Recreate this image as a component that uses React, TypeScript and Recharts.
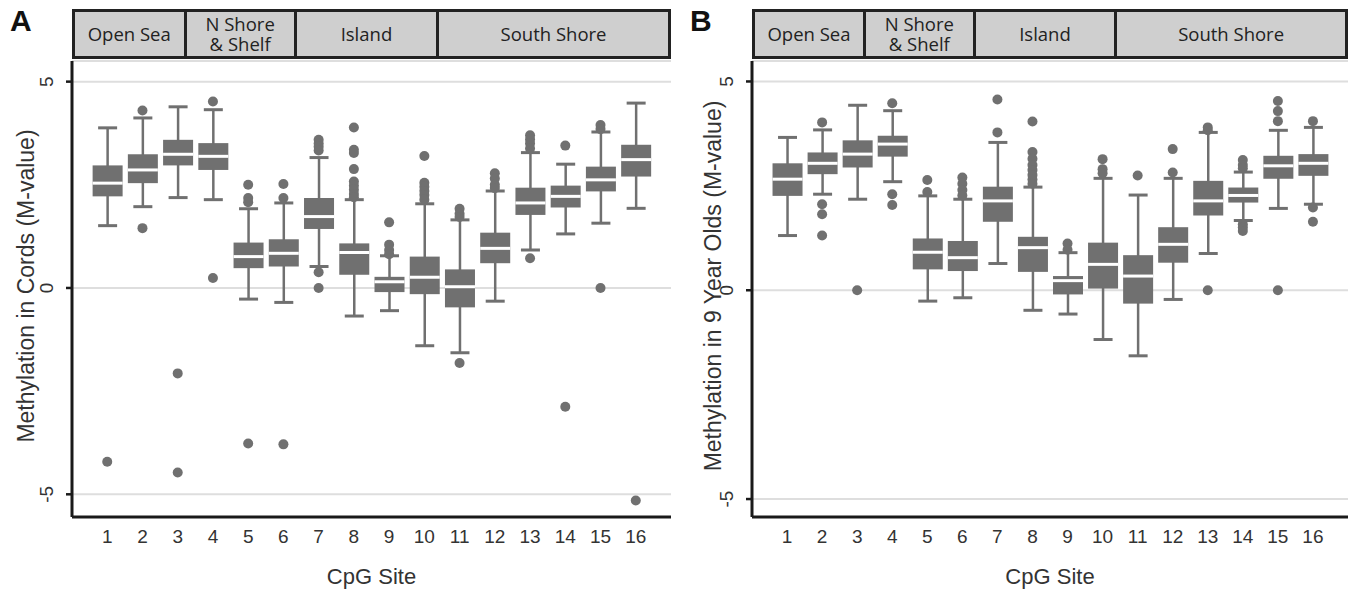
import { ComposedChart, Bar, Scatter, XAxis, YAxis, CartesianGrid } from 'recharts';

const sites = [1, 2, 3, 4, 5, 6, 7, 8, 9, 10, 11, 12, 13, 14, 15, 16];
const regions = ['Open Sea', 'N Shore\n& Shelf', 'Island', 'South Shore'];
// region edges on the CpG site axis
const regionEdges = [0, 3.25, 6.38, 10.42, 17];
const yTicks = [-5, 0, 5];

// Panel A: cords
const cordLow = [1.51, 1.97, 2.19, 2.14, -0.27, -0.35, 0.52, -0.68, -0.55, -1.4, -1.57, -0.32, 0.92, 1.31, 1.57, 1.93];
const cordQ1 = [2.22, 2.54, 2.97, 2.86, 0.48, 0.52, 1.43, 0.32, -0.1, -0.15, -0.47, 0.6, 1.77, 1.95, 2.34, 2.7];
const cordMedian = [2.54, 2.86, 3.24, 3.19, 0.76, 0.84, 1.73, 0.86, 0.15, 0.26, 0.03, 0.96, 2.06, 2.22, 2.62, 3.11];
const cordQ3 = [2.97, 3.24, 3.59, 3.51, 1.1, 1.18, 2.18, 1.08, 0.27, 0.76, 0.45, 1.34, 2.43, 2.48, 2.94, 3.47];
const cordHigh = [3.88, 4.12, 4.39, 4.32, 1.92, 2.06, 3.16, 2.14, 0.78, 2.04, 1.65, 2.35, 3.28, 3.0, 3.78, 4.48];
const cordOutliers = [
  [-4.21],
  [4.3, 1.45],
  [-2.07, -4.47],
  [4.52, 0.24],
  [2.5, 2.18, 2.08, -3.77],
  [2.52, 2.18, -3.79],
  [3.59, 3.5, 3.42, 3.33, 0.38, 0.0],
  [3.89, 3.35, 3.27, 2.88, 2.58, 2.48, 2.38, 2.28, 2.2],
  [1.59, 1.05, 0.92, 0.82],
  [3.2, 2.55, 2.45, 2.35, 2.25, 2.14],
  [1.92, 1.8, 1.72, -1.82],
  [2.78, 2.65, 2.5, 2.42],
  [3.7, 3.6, 3.5, 3.38, 0.72],
  [3.45, -2.88],
  [3.95, 3.85, 0.0],
  [-5.15],
];

// Panel B: 9 year olds
const nineLow = [1.31, 2.3, 2.18, 2.6, -0.26, -0.18, 0.64, -0.48, -0.57, -1.18, -1.57, -0.22, 0.88, 1.67, 1.96, 2.06];
const nineQ1 = [2.26, 2.78, 2.94, 3.2, 0.5, 0.46, 1.64, 0.44, -0.1, 0.04, -0.32, 0.66, 1.79, 2.1, 2.67, 2.74];
const nineMedian = [2.66, 3.04, 3.26, 3.5, 0.91, 0.78, 2.14, 1.02, 0.23, 0.62, 0.34, 1.1, 2.14, 2.27, 2.98, 3.04];
const nineQ3 = [3.04, 3.3, 3.59, 3.7, 1.24, 1.18, 2.48, 1.28, 0.34, 1.14, 0.84, 1.51, 2.62, 2.46, 3.22, 3.26];
const nineHigh = [3.66, 3.84, 4.43, 4.3, 2.26, 2.18, 3.54, 2.47, 0.9, 2.68, 2.28, 2.68, 3.78, 2.83, 3.83, 3.9];
const nineOutliers = [
  [],
  [4.02, 2.06, 1.82, 1.31],
  [0.0],
  [4.48, 2.3, 2.04],
  [2.64, 2.35],
  [2.7, 2.55, 2.4, 2.27],
  [4.57, 3.78],
  [4.04, 3.31, 3.15, 3.0, 2.88, 2.76, 2.65, 2.55],
  [1.12, 0.97],
  [3.14, 2.9, 2.8],
  [2.75],
  [3.38, 2.82],
  [3.9, 3.83, 0.0],
  [3.12, 3.0, 2.92, 1.58, 1.5, 1.42],
  [4.53, 4.29, 4.05, 0.0],
  [4.05, 1.98, 1.64],
];

const GRAY = '#707070';
const AXIS = '#1a1a1a';
const ARIAL = "'Liberation Sans', Arial, sans-serif";

function buildRows(low: number[], q1: number[], med: number[], q3: number[], high: number[]) {
  return sites.map((s, i) => ({ site: s, low: low[i], q1: q1[i], median: med[i], q3: q3[i], high: high[i] }));
}

function buildOutliers(out: number[][]) {
  return out.flatMap((vals, i) => vals.map((v) => ({ site: sites[i], v })));
}

function BoxShape(props: any) {
  const { x, y, width, height, payload } = props;
  const { low, q1, median, q3, high } = payload;
  const k = height / (high - low);
  const py = (v: number) => y + (high - v) * k;
  const cx = x + width / 2;
  const cap = 19;
  return (
    <g>
      <line x1={cx} x2={cx} y1={py(high)} y2={py(low)} stroke={GRAY} strokeWidth={2.5} />
      <line x1={cx - cap / 2} x2={cx + cap / 2} y1={py(high)} y2={py(high)} stroke={GRAY} strokeWidth={3} />
      <line x1={cx - cap / 2} x2={cx + cap / 2} y1={py(low)} y2={py(low)} stroke={GRAY} strokeWidth={3} />
      <rect x={x} y={py(q3)} width={width} height={py(q1) - py(q3)} fill={GRAY} />
      <line x1={x} x2={x + width} y1={py(median)} y2={py(median)} stroke="#fff" strokeWidth={3} />
    </g>
  );
}

const Dot = (p: any) => <circle cx={p.cx} cy={p.cy} r={5} fill={GRAY} />;

// rotated y tick labels, baseline a little left of the tick mark
const YTick = (p: any) => {
  const tx = p.x - 11;
  return (
    <text x={tx} y={p.y} transform={`rotate(-90 ${tx} ${p.y})`} textAnchor="middle" fontSize={19} fontFamily={ARIAL} fill="#333">
      {p.payload.value}
    </text>
  );
};

interface PanelProps {
  left: number;
  width: number;
  letter: string;
  yLabel: string;
  labelX: number;
  domain: [number, number];
  rows: any[];
  outliers: any[];
}

const PLOT_LEFT = 72;
const PLOT_TOP = 61;
const PLOT_BOTTOM = 517;
const H = 595;

function Panel({ left, width, letter, yLabel, labelX, domain, rows, outliers }: PanelProps) {
  const marginRight = 10;
  const plotW = width - PLOT_LEFT - marginRight;
  const ux = plotW / 17;
  const midX = PLOT_LEFT + plotW / 2;
  const midY = (PLOT_TOP + PLOT_BOTTOM) / 2 - 3;
  return (
    <div style={{ position: 'absolute', left, top: 0, width, height: H }}>
      <div style={{ position: 'absolute', left: 10, top: 4, fontFamily: ARIAL, fontWeight: 'bold', fontSize: 30, color: '#111' }}>
        {letter}
      </div>
      <div style={{ position: 'absolute', left: PLOT_LEFT, top: 9, height: 50, width: plotW, display: 'flex' }}>
        {regions.map((r, i) => (
          <div
            key={r}
            style={{
              boxSizing: 'border-box',
              width: (regionEdges[i + 1] - regionEdges[i]) * ux + (i > 0 ? 3 : 0),
              marginLeft: i > 0 ? -3 : 0,
              height: 50,
              border: '3px solid #222',
              background: '#cfcfcf',
              display: 'flex',
              alignItems: 'center',
              justifyContent: 'center',
              textAlign: 'center',
              whiteSpace: 'pre',
              fontFamily: "'Open Sans', sans-serif",
              fontSize: 18.5,
              lineHeight: '20px',
              color: '#222',
            }}
          >
            {r}
          </div>
        ))}
      </div>
      <ComposedChart
        width={width}
        height={H}
        data={rows}
        margin={{ top: PLOT_TOP, left: PLOT_LEFT - 40, right: marginRight, bottom: H - PLOT_BOTTOM - 40 }}
      >
        <CartesianGrid vertical={false} stroke="#dedede" strokeWidth={2} />
        <XAxis
          dataKey="site"
          type="number"
          domain={[0, 17]}
          ticks={sites}
          interval={0}
          allowDataOverflow
          tickLine={false}
          tickSize={0}
          tickMargin={13}
          height={40}
          axisLine={{ stroke: AXIS, strokeWidth: 3 }}
          tick={{ fontSize: 19, fontFamily: ARIAL, fill: '#333' }}
        />
        <YAxis
          type="number"
          domain={domain}
          ticks={yTicks}
          allowDataOverflow
          width={40}
          tickSize={6}
          tickMargin={2}
          tickLine={{ stroke: AXIS, strokeWidth: 2.5 }}
          axisLine={{ stroke: AXIS, strokeWidth: 3 }}
          tick={<YTick />}
        />
        <Bar dataKey={(d: any) => [d.low, d.high]} barSize={30} shape={<BoxShape />} isAnimationActive={false} />
        <Scatter data={outliers} dataKey="v" shape={<Dot />} isAnimationActive={false} />
      </ComposedChart>
      <div
        style={{
          position: 'absolute',
          left: labelX,
          top: midY,
          transform: 'translate(-50%, -50%) rotate(-90deg)',
          whiteSpace: 'nowrap',
          fontFamily: ARIAL,
          fontSize: 23,
          color: '#333',
        }}
      >
        {yLabel}
      </div>
      <div
        style={{
          position: 'absolute',
          left: midX,
          top: 577,
          transform: 'translate(-50%, -50%)',
          whiteSpace: 'nowrap',
          fontFamily: ARIAL,
          fontSize: 22,
          color: '#333',
        }}
      >
        CpG Site
      </div>
    </div>
  );
}

export default function App() {
  const rowsA = buildRows(cordLow, cordQ1, cordMedian, cordQ3, cordHigh);
  const rowsB = buildRows(nineLow, nineQ1, nineMedian, nineQ3, nineHigh);
  return (
    <div style={{ position: 'absolute', left: 0, top: 0, width: 1358, height: 595, background: '#fff', overflow: 'hidden' }}>
      <Panel left={0} width={681} letter="A" yLabel="Methylation in Cords (M-value)" labelX={26} domain={[-5.55, 5.5]} rows={rowsA} outliers={buildOutliers(cordOutliers)} />
      <Panel left={680} width={678} letter="B" yLabel="Methylation in 9 Year Olds (M-value)" labelX={33} domain={[-5.43, 5.49]} rows={rowsB} outliers={buildOutliers(nineOutliers)} />
    </div>
  );
}
